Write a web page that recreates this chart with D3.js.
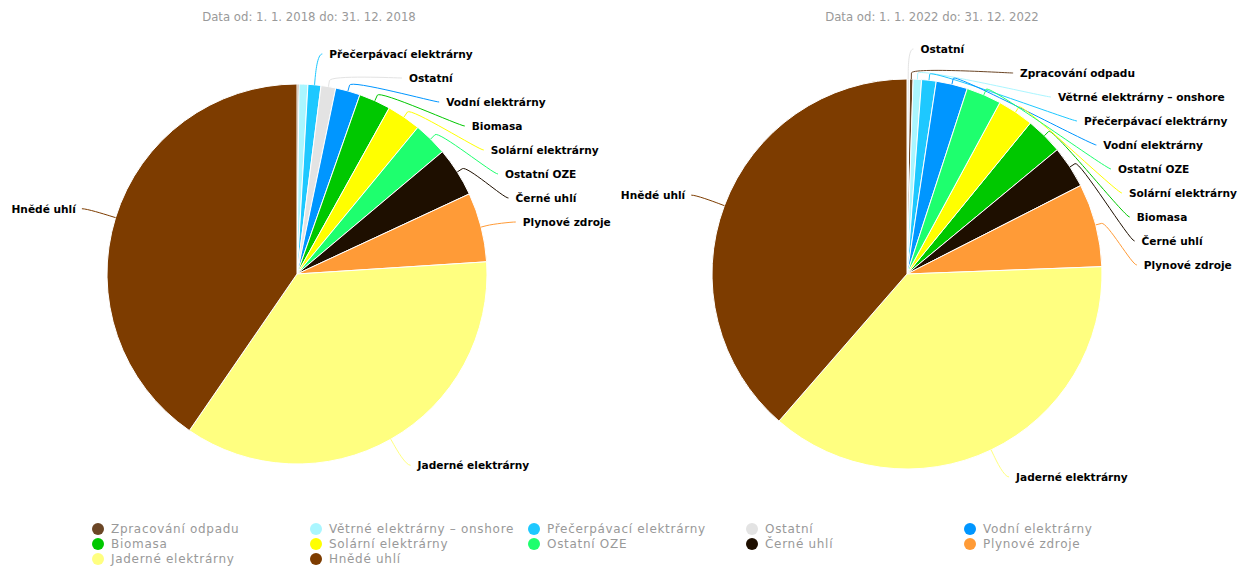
<!DOCTYPE html>
<html>
<head>
<meta charset="utf-8">
<title>Výroba elektřiny podle zdrojů</title>
<script src="https://cdn.jsdelivr.net/npm/d3@7"></script>
<style>
  body { margin: 0; background: #fff; }
  svg { display: block; font-family: "DejaVu Sans", sans-serif; }
  .subtitle { fill: #999; font-size: 11.7px; }
  .slice { stroke: #fff; stroke-width: 1; stroke-linejoin: round; }
  .connector { fill: none; stroke-width: 1; }
  .label { font-size: 10.6px; font-weight: bold; fill: #000;
           stroke: #fff; stroke-width: 2px; stroke-linejoin: round; paint-order: stroke; }
  .legend text { fill: #999; font-size: 12px; letter-spacing: 0.7px; }
</style>
</head>
<body>
<div id="chart"></div>
<script>

// categories in legend order
var categories = ["Zpracování odpadu", "Větrné elektrárny – onshore", "Přečerpávací elektrárny", "Ostatní",
    "Vodní elektrárny", "Biomasa", "Solární elektrárny", "Ostatní OZE", "Černé uhlí", "Plynové zdroje",
    "Jaderné elektrárny", "Hnědé uhlí"];
var colors = ["#6b4626", "#aaf6ff", "#1ec8ff", "#e3e3e3", "#0096ff", "#00c800", "#ffff00", "#1eff6e",
    "#1e0f00", "#ff9b37", "#ffff80", "#7d3c00"];

// share of production in %
var values2018 = [0.17, 0.75, 1.1, 1.25, 2.1, 2.7, 2.9, 2.9, 4.2, 5.9, 35.6, 40.4];
var values2022 = [0.3, 0.7, 1.2, 0.2, 2.6, 3.1, 3.0, 2.9, 3.5, 6.9, 37.0, 38.6];

var subtitle2018 = "Data od: 1. 1. 2018 do: 31. 12. 2018";
var subtitle2022 = "Data od: 1. 1. 2022 do: 31. 12. 2022";

var W = 1240, H = 570;
var charts = [
    {values: values2018, subtitle: subtitle2018, cx: 297, cy: 274, r: 190, titleX: 309},
    {values: values2022, subtitle: subtitle2022, cx: 907, cy: 274, r: 195, titleX: 932}
];
var labelDistance = 30, labelSize = 24, plotTop = 40, plotBottom = 505;

var svg = d3.select("#chart").append("svg")
    .attr("width", W)
    .attr("height", H);

// spread labels of one half so they don't overlap (lowest ranks dropped when short of room)
function distribute(boxes, len, maxDistance) {
    var reducedLen = boxes.reducedLen || len;
    var total = d3.sum(boxes, b => b.size);
    var rest = [];
    if (total > reducedLen) {
        boxes.sort((a, b) => b.rank - a.rank);
        var k = 0; total = 0;
        while (total <= reducedLen) { total += boxes[k].size; k++; }
        rest = boxes.splice(k - 1, boxes.length);
    }
    boxes.sort((a, b) => a.target - b.target);
    var groups = boxes.map(b => ({size: b.size, targets: [b.target], align: 0.5}));
    var overlapping = true;
    while (overlapping) {
        groups.forEach(function(g) {
            var t = (d3.min(g.targets) + d3.max(g.targets)) / 2;
            g.pos = Math.min(Math.max(t - g.size * g.align, 0), len - g.size);
        });
        overlapping = false;
        for (var i = groups.length - 1; i > 0; i--) {
            if (groups[i - 1].pos + groups[i - 1].size > groups[i].pos) {
                groups[i - 1].size += groups[i].size;
                groups[i - 1].targets = groups[i - 1].targets.concat(groups[i].targets);
                groups[i - 1].align = 0.5;
                if (groups[i - 1].pos + groups[i - 1].size > len) groups[i - 1].pos = len - groups[i - 1].size;
                groups.splice(i, 1);
                overlapping = true;
            }
        }
    }
    boxes.push.apply(boxes, rest);
    var n = 0;
    groups.some(function(g) {
        var off = 0;
        return g.targets.some(function() {
            boxes[n].pos = g.pos + off;
            if (Math.abs(boxes[n].pos - boxes[n].target) > maxDistance) {
                boxes.slice(0, n + 1).forEach(b => { delete b.pos; });
                boxes.reducedLen = (boxes.reducedLen || len) - len * 0.1;
                if (boxes.reducedLen > len * 0.1) distribute(boxes, len, maxDistance);
                return true;
            }
            off += boxes[n].size;
            n++;
            return false;
        });
    });
    boxes.sort((a, b) => a.target - b.target);
}

charts.forEach(function(c) {
    var data = categories.map((name, i) => ({name: name, value: c.values[i], color: colors[i]}));
    var pie = d3.pie().value(d => d.value).sortValues(d3.ascending);
    var arcs = pie(data);
    var arc = d3.arc().innerRadius(0).outerRadius(c.r);
    var R = c.r + labelDistance;

    svg.append("text")
        .attr("class", "subtitle")
        .attr("x", c.titleX)
        .attr("y", 21)
        .attr("text-anchor", "middle")
        .text(c.subtitle);

    var g = svg.append("g").attr("transform", `translate(${c.cx},${c.cy})`);
    g.selectAll("path.slice")
        .data(arcs)
        .enter().append("path")
        .attr("class", "slice")
        .attr("d", arc)
        .style("fill", d => d.data.color);

    // label anchors
    var top = Math.max(plotTop, c.cy - R), bottom = Math.min(plotBottom, c.cy + R);
    var len = bottom + labelSize - top;
    var halves = [[], []];
    arcs.forEach(function(a) {
        var mid = (a.startAngle + a.endAngle) / 2;
        a.mid = mid;
        a.left = mid > Math.PI;
        a.naturalY = c.cy - Math.cos(mid) * R;
        a.box = {target: a.naturalY - top + labelSize / 2, size: labelSize, rank: a.value, arc: a};
        halves[a.left ? 1 : 0].push(a.box);
    });
    halves.forEach(h => distribute(h, len, len / 5));

    function getX(y, left) {
        var ang = Math.asin(Math.max(-1, Math.min(1, (y - c.cy) / R)));
        return c.cx + (left ? -1 : 1) * (Math.cos(ang) * R + 5);
    }

    var shown = arcs.filter(a => a.box.pos !== undefined);
    shown.forEach(function(a) {
        var y = top + a.box.pos;
        var x = getX((y < top + 2 || y > bottom - 2) ? a.naturalY : y, a.left);
        a.lx = x; a.ly = y;
    });

    svg.selectAll(null)
        .data(shown)
        .enter().append("path")
        .attr("class", "connector")
        .style("stroke", d => d.data.color)
        .attr("d", function(d) {
            var tx = c.cx + Math.sin(d.mid) * c.r, ty = c.cy - Math.cos(d.mid) * c.r;
            var bx = c.cx + Math.sin(d.mid) * (c.r + 6), by = c.cy - Math.cos(d.mid) * (c.r + 6);
            var p = d3.path();
            p.moveTo(d.lx, d.ly);
            p.bezierCurveTo(d.lx + (d.left ? 5 : -5), d.ly, 2 * bx - tx, 2 * by - ty, bx, by);
            p.lineTo(tx, ty);
            return p.toString();
        });

    svg.selectAll(null)
        .data(shown)
        .enter().append("text")
        .attr("class", "label")
        .attr("x", d => d.left ? d.lx - 6 : d.lx + 7)
        .attr("y", d => d.ly)
        .attr("dy", "0.36em")
        .attr("text-anchor", d => d.left ? "end" : "start")
        .text(d => d.data.name);
});

// shared legend, 5 columns
var legend = svg.append("g").attr("class", "legend");
var item = legend.selectAll("g")
    .data(categories)
    .enter().append("g")
    .attr("transform", (d, i) => `translate(${98 + (i % 5) * 218},${529 + Math.floor(i / 5) * 15})`);
item.append("circle")
    .attr("r", 6)
    .style("fill", (d, i) => colors[i]);
item.append("text")
    .attr("x", 13)
    .attr("dy", "0.36em")
    .text(d => d);

</script>
</body>
</html>
